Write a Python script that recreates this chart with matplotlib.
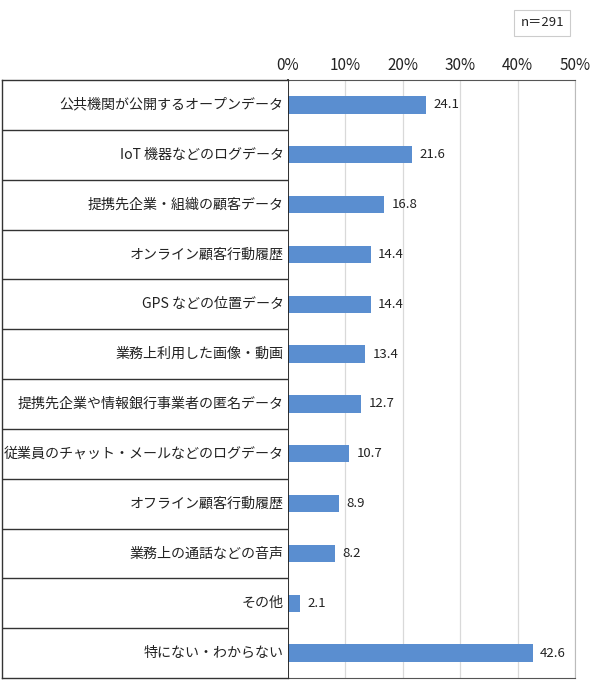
import matplotlib
matplotlib.use("Agg")
import matplotlib.pyplot as plt
from matplotlib.ticker import FuncFormatter

plt.rcParams['font.family'] = ['Noto Sans CJK JP', 'DejaVu Sans']

categories = [
    "公共機関が公開するオープンデータ",
    "IoT 機器などのログデータ",
    "提携先企業・組織の顧客データ",
    "オンライン顧客行動履歴",
    "GPS などの位置データ",
    "業務上利用した画像・動画",
    "提携先企業や情報銀行事業者の匿名データ",
    "従業員のチャット・メールなどのログデータ",
    "オフライン顧客行動履歴",
    "業務上の通話などの音声",
    "その他",
    "特にない・わからない",
]
values = [24.1, 21.6, 16.8, 14.4, 14.4, 13.4, 12.7, 10.7, 8.9, 8.2, 2.1, 42.6]
ticks = [0, 10, 20, 30, 40, 50]
n_label = "n＝291"

W, H = 590, 693
fig = plt.figure(figsize=(W / 100, H / 100), dpi=100)

x0, x1 = 288, 575
y_top, y_bot = 80, 678
lab_left = 2

ax = fig.add_axes([x0 / W, 1 - y_bot / H, (x1 - x0) / W, (y_bot - y_top) / H])
axl = fig.add_axes([lab_left / W, 1 - y_bot / H, (x0 - lab_left) / W, (y_bot - y_top) / H])

n = len(categories)
ypos = list(range(n))
bar_color = "#5A8ED0"
ax.barh(ypos, values, height=0.35, color=bar_color, zorder=3)
ax.set_ylim(n - 0.5, -0.5)
ax.set_xlim(0, 50)
ax.set_xticks(ticks)
ax.xaxis.set_major_formatter(FuncFormatter(lambda v, p: f"{int(v)}%"))
ax.xaxis.tick_top()
ax.tick_params(axis='x', length=0, labelsize=11, pad=4, colors="#222222")
ax.set_yticks([])
ax.grid(axis='x', color="#d9d9d9", linewidth=0.9, zorder=0)
ax.spines['left'].set_color("#222222")
ax.spines['left'].set_linewidth(1.3)
ax.spines['left'].set_zorder(4)
ax.spines['top'].set_color("#555555")
ax.spines['bottom'].set_color("#555555")
ax.spines['right'].set_color("#bbbbbb")

for i, v in enumerate(values):
    ax.text(v + 1.3, i, f"{v:.1f}", va='center', ha='left', fontsize=9.5, color="#222222")

# label table
axl.set_ylim(n - 0.5, -0.5)
axl.set_xlim(0, 1)
axl.set_xticks([])
axl.set_yticks([])
for s in axl.spines.values():
    s.set_color("#333333")
    s.set_linewidth(1.0)
axl.spines['right'].set_visible(False)
for b in range(1, n):
    axl.axhline(b - 0.5, color="#333333", linewidth=1.0)
for i, c in enumerate(categories):
    axl.text(0.985, i, c, ha='right', va='center', fontsize=10.1, color="#222222")

# n box
fig.text(542 / W, 1 - 23 / H, n_label, ha='center', va='center', fontsize=9.5, color="#222222",
         bbox=dict(boxstyle='square,pad=0.5', facecolor='white', edgecolor="#cccccc", linewidth=0.8))

fig.savefig("out.png", dpi=100)
